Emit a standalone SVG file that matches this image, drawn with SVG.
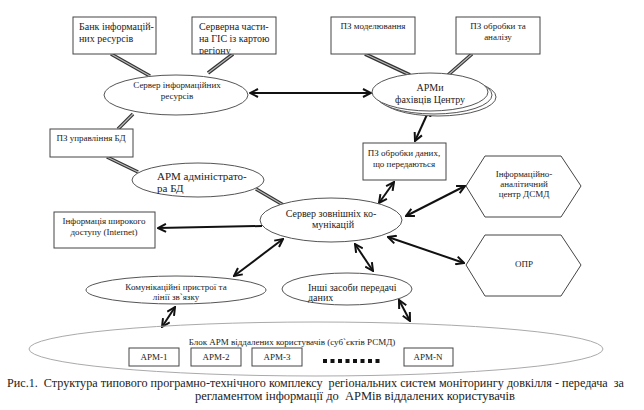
<svg xmlns="http://www.w3.org/2000/svg" width="644" height="410" viewBox="0 0 644 410" font-family="'Liberation Serif','Times New Roman',Times,serif">
<style>
text{font-family:"Liberation Serif","Times New Roman",Times,serif;fill:#222;}
.box{fill:#fff;stroke:#444;stroke-width:1;}
.ell{fill:#fff;stroke:#555;stroke-width:1;}
.dbl1{stroke:#333;stroke-width:3.6;stroke-linecap:butt;}
.dbl2{stroke:#bbb;stroke-width:1.2;stroke-linecap:butt;}
.arr{stroke:#111;stroke-width:2;fill:none;marker-start:url(#ah);marker-end:url(#ah);}
.arr1{stroke:#111;stroke-width:2;fill:none;marker-end:url(#ah);}
.s9{font-size:9px;}
.s10{font-size:10px;}
.s11{font-size:11px;}
.c{text-anchor:middle;}
</style>
<defs>
<marker id="ah" viewBox="0 0 10 10" refX="9" refY="5" markerWidth="5" markerHeight="5" orient="auto-start-reverse" markerUnits="strokeWidth">
<path d="M1,1 L9,5 L1,9" fill="none" stroke="#111" stroke-width="2"/>
</marker>
<clipPath id="clipG"><rect x="192" y="17" width="84" height="37"/></clipPath>
</defs>
<rect width="644" height="410" fill="#fff"/>

<g id="connectors">
<g id="double-lines">
<line class="dbl1" x1="111" y1="54" x2="150" y2="76"/><line class="dbl2" x1="111" y1="54" x2="150" y2="76"/>
<line class="dbl1" x1="233" y1="54" x2="208" y2="73"/><line class="dbl2" x1="233" y1="54" x2="208" y2="73"/>
<line class="dbl1" x1="365" y1="54" x2="410" y2="75"/><line class="dbl2" x1="365" y1="54" x2="410" y2="75"/>
<line class="dbl1" x1="472" y1="54" x2="448" y2="75"/><line class="dbl2" x1="472" y1="54" x2="448" y2="75"/>
<line class="dbl1" x1="133" y1="114" x2="118" y2="129"/><line class="dbl2" x1="133" y1="114" x2="118" y2="129"/>
<line class="dbl1" x1="107" y1="157" x2="138" y2="172"/><line class="dbl2" x1="107" y1="157" x2="138" y2="172"/>
<line class="dbl1" x1="256" y1="189" x2="285" y2="206"/><line class="dbl2" x1="256" y1="189" x2="285" y2="206"/>
</g>
<line class="arr" x1="250" y1="93" x2="371" y2="93"/>
<line class="arr" x1="430" y1="108" x2="415" y2="141"/>
<line class="arr" x1="394" y1="182" x2="379" y2="203"/>
<line class="arr" x1="465" y1="186" x2="406" y2="216"/>
<line class="arr" x1="388" y1="237" x2="464" y2="263"/>
<line class="arr" x1="283" y1="239" x2="234" y2="276"/>
<line class="arr" x1="355" y1="244" x2="373" y2="271"/>
<line class="arr" x1="175" y1="307" x2="162" y2="327"/>
<line class="arr" x1="399" y1="300" x2="410" y2="321"/>
<line class="arr1" x1="262" y1="226" x2="158" y2="228"/>
</g>

<g id="bank">
<rect class="box" x="73" y="17" width="83" height="37"/>
<text class="s10" x="79" y="30">Банк інформацій-</text>
<text class="s10" x="79" y="42">них ресурсів</text>
</g>
<g id="gis">
<rect class="box" x="192" y="17" width="84" height="37"/>
<g clip-path="url(#clipG)">
<text class="s10" x="199" y="30">Серверна части-</text>
<text class="s10" x="199" y="42">на ГІС із картою</text>
<text class="s10" x="199" y="54">регіону</text>
</g>
</g>
<g id="pz-model">
<rect class="box" x="331" y="17" width="84" height="37"/>
<text class="s9 c" x="373" y="29">ПЗ моделювання</text>
</g>
<g id="pz-analysis">
<rect class="box" x="456" y="17" width="84" height="37"/>
<text class="s9 c" x="498" y="29">ПЗ обробки та</text>
<text class="s9 c" x="498" y="40">аналізу</text>
</g>
<g id="info-server">
<ellipse class="ell" cx="176" cy="95" rx="72" ry="20"/>
<text class="s9 c" x="177" y="88">Сервер інформаційних</text>
<text class="s9 c" x="177" y="99">ресурсів</text>
</g>
<g id="arm-center">
<ellipse class="ell" cx="438" cy="97" rx="58" ry="19"/>
<ellipse class="ell" cx="434" cy="95" rx="58" ry="19"/>
<ellipse class="ell" cx="430" cy="92" rx="58" ry="19"/>
<text class="s10 c" x="430" y="91">АРМи</text>
<text class="s10 c" x="430" y="103">фахівців Центру</text>
</g>
<g id="pz-db">
<rect class="box" x="50" y="129" width="83" height="28"/>
<text class="s9 c" x="91" y="141">ПЗ управління БД</text>
</g>
<g id="arm-admin">
<ellipse class="ell" cx="198" cy="180" rx="66" ry="17"/>
<text class="s11" x="157" y="180">АРМ адміністрато-</text>
<text class="s11" x="157" y="192">ра БД</text>
</g>
<g id="pz-transfer">
<rect class="box" x="363" y="143" width="83" height="37"/>
<text class="s9 c" x="404" y="156">ПЗ обробки даних,</text>
<text class="s9 c" x="404" y="167">що передаються</text>
</g>
<g id="internet">
<rect class="box" x="54" y="212" width="101" height="36"/>
<text class="s9 c" x="104" y="224">Інформація широкого</text>
<text class="s9 c" x="104" y="235">доступу (Internet)</text>
</g>
<g id="ext-server">
<ellipse class="ell" cx="331" cy="220" rx="71" ry="22"/>
<text class="s10 c" x="331" y="217">Сервер зовнішніх ко-</text>
<text class="s10 c" x="333" y="228">мунікацій</text>
</g>
<g id="dsmd">
<polygon class="box" points="466,186 485,156 561,156 581,186 561,217 485,217"/>
<text class="s9 c" x="524" y="177">Інформаційно-</text>
<text class="s9 c" x="524" y="187">аналітичний</text>
<text class="s9 c" x="524" y="197">центр ДСМД</text>
</g>
<g id="opr">
<polygon class="box" points="466,265 485,235 561,235 581,265 561,296 485,296"/>
<text class="s9 c" x="524" y="267">ОПР</text>
</g>
<g id="comm-devices">
<ellipse class="ell" cx="176" cy="290" rx="90" ry="14"/>
<text class="s9 c" x="176" y="290">Комунікаційні пристрої та</text>
<text class="s9 c" x="176" y="300">лінії зв`язку</text>
</g>
<g id="other-means">
<ellipse class="ell" cx="347" cy="289" rx="65" ry="16"/>
<text class="s10" x="308" y="291">Інші засоби передачі</text>
<text class="s10" x="308" y="301">даних</text>
</g>
<g id="remote-block">
<ellipse cx="316" cy="349" rx="287" ry="27" fill="none" stroke="#aaa" stroke-width="1"/>
<text class="s9 c" x="292" y="345">Блок АРМ віддалених користувачів (суб`єктів РСМД)</text>
<rect class="box" x="129" y="348" width="50" height="18"/>
<text class="s9 c" x="154" y="360">АРМ-1</text>
<rect class="box" x="191" y="348" width="50" height="18"/>
<text class="s9 c" x="216" y="360">АРМ-2</text>
<rect class="box" x="252" y="348" width="50" height="18"/>
<text class="s9 c" x="277" y="360">АРМ-3</text>
<rect class="box" x="404" y="348" width="49" height="18"/>
<text class="s9 c" x="428" y="360">АРМ-N</text>
<g fill="#111">
<rect x="323" y="359" width="4" height="4"/>
<rect x="330.5" y="359" width="4" height="4"/>
<rect x="338" y="359" width="4" height="4"/>
<rect x="345.5" y="359" width="4" height="4"/>
<rect x="353" y="359" width="4" height="4"/>
<rect x="360.5" y="359" width="4" height="4"/>
<rect x="368" y="359" width="4" height="4"/>
<rect x="375.5" y="359" width="4" height="4"/>
</g>
</g>
<g id="caption">
<text x="7" y="387" font-size="12" textLength="617" lengthAdjust="spacingAndGlyphs" xml:space="preserve">Рис.1.  Структура типового програмно-технічного комплексу  регіональних систем моніторингу довкілля - передача  за</text>
<text x="195" y="400" font-size="12" textLength="320" lengthAdjust="spacingAndGlyphs" xml:space="preserve">регламентом інформації до  АРМів віддалених користувачів</text>
</g>
</svg>
